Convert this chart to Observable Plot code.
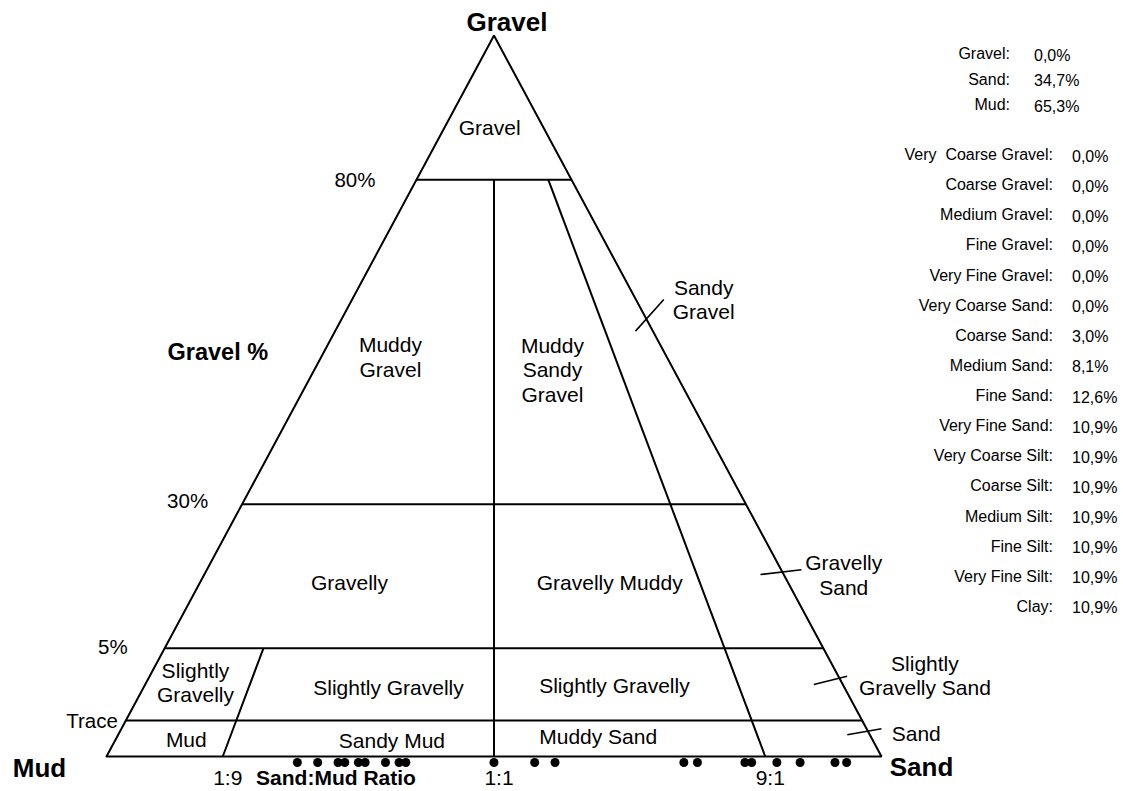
<!DOCTYPE html>
<html>
<head>
<meta charset="utf-8">
<script src="https://cdn.jsdelivr.net/npm/d3@7"></script>
<script src="https://cdn.jsdelivr.net/npm/@observablehq/plot@0.6"></script>
<style>
  html, body { margin: 0; padding: 0; background: #fff; }
  body { font-family: "Liberation Sans", Arial, Helvetica, sans-serif; }
  #wrap { position: relative; width: 1123px; height: 791px; overflow: hidden; }
  #list { position: absolute; left: 0; top: 0; width: 1123px; height: 791px; pointer-events: none; font-size: 16px; color: #000; }
  .lab, .val { position: absolute; white-space: pre; line-height: 16px; }
  .lab { text-align: right; }
</style>
</head>
<body>
<div id="wrap"><div id="list"></div></div>
<script>
// ---------------- data ----------------
// gravel % class boundaries (Trace, 5%, 30%, 80%)
const gravelBoundaries = [0.05, 5, 30, 80];
const gravelBoundaryLabels = ["Trace", "5%", "30%", "80%"];
// sand:mud ratio boundaries, as sand fraction of sand+mud
const ratioValues = [0.1, 0.5, 0.9];
const ratioLabels = ["1:9", "1:1", "9:1"];
// samples (0% gravel) – sand fraction of sand+mud
const sampleSand = [0.21, 0.24, 0.27, 0.28, 0.30, 0.31, 0.34, 0.36, 0.37,
                    0.50, 0.56, 0.59, 0.78, 0.80, 0.87, 0.88, 0.91, 0.93, 0.96, 0.97];
// summary
const summaryNames = ["Gravel:", "Sand:", "Mud:"];
const summaryValues = [0.0, 34.7, 65.3];
const fractionNames = ["Very  Coarse Gravel:", "Coarse Gravel:", "Medium Gravel:", "Fine Gravel:",
  "Very Fine Gravel:", "Very Coarse Sand:", "Coarse Sand:", "Medium Sand:", "Fine Sand:",
  "Very Fine Sand:", "Very Coarse Silt:", "Coarse Silt:", "Medium Silt:", "Fine Silt:",
  "Very Fine Silt:", "Clay:"];
const fractionValues = [0.0, 0.0, 0.0, 0.0, 0.0, 0.0, 3.0, 8.1, 12.6, 10.9, 10.9, 10.9, 10.9, 10.9, 10.9, 10.9];
// class names
const classNames = ["Gravel", "Muddy\nGravel", "Muddy\nSandy\nGravel", "Sandy\nGravel", "Gravelly",
  "Gravelly Muddy", "Gravelly\nSand", "Slightly\nGravelly", "Slightly Gravelly", "Slightly Gravelly",
  "Slightly\nGravelly Sand", "Mud", "Sandy Mud", "Muddy Sand", "Sand"];

// ---------------- layout (anchors in ternary coordinates: gravel %, sand fraction) ----------------
const classAnchors = [
  [87.3, 0.45], [52.75, 0.157], [50.75, 0.686], [61.6, 1.16], [16.47, 0.219],
  [16.47, 0.725], [17.77, 1.069], [2.68, 0.047], [2.31, 0.328], [2.45, 0.697],
  [3.16, 1.0845], [0.0245, 0.062], [0.0222, 0.346], [0.0277, 0.658], [0.0323, 1.042]
];
const leaderAnchors = [
  [[56.66, 0.9635], [61.53, 1.0655]],
  [[17.8, 0.9733], [18.62, 1.0236]],
  [[2.518, 0.9723], [3.09, 1.0085]],
  [[0.0301, 0.98], [0.0385, 1.0133]]
];
const boundaryLabelOffsets = [[-8, 1], [-37, -1], [-34, -3], [-41, 1]];

// ---------------- ternary projection ----------------
// Folk diagram stretches gravel classes and ratio classes
const heightOf = d3.scaleLinear([0, 0.05, 5, 30, 80, 100], [0, 0.05, 0.15, 0.35, 0.8, 1]);
const widthOf = d3.scaleLinear([0, 0.1, 0.5, 0.9, 1], [0, 0.15, 0.5, 0.85, 1]);
const P = (g, s) => { const h = heightOf(g); return {u: (widthOf(s) - 0.5) * (1 - h), h}; };

const outline = [[0, 0], [0, 1], [100, 0.5], [0, 0]].map(([g, s]) => P(g, s));
const boundaries = [
  ...gravelBoundaries.map(g => ({a: P(g, 0), b: P(g, 1)})),
  {a: P(5, ratioValues[0]), b: P(0, ratioValues[0])},
  {a: P(80, ratioValues[1]), b: P(0, ratioValues[1])},
  {a: P(80, ratioValues[2]), b: P(0, ratioValues[2])}
];
const leaders = leaderAnchors.map(([a, b]) => ({a: P(...a), b: P(...b)}));
const classData = classNames.map((t, i) => ({t, ...P(...classAnchors[i])}));
const samples = sampleSand.map(s => P(0, s));
const ratioData = ratioValues.map((s, i) => ({t: ratioLabels[i], ...P(0, s)}));

const link = (data, opts) => Plot.link(data, {x1: d => d.a.u, y1: d => d.a.h, x2: d => d.b.u, y2: d => d.b.h, stroke: "black", ...opts});
const FONT = "Liberation Sans, Arial, Helvetica, sans-serif";

const marks = [
  link(boundaries, {strokeWidth: 2}),
  link(leaders, {strokeWidth: 1.6}),
  Plot.line(outline, {x: "u", y: "h", stroke: "black", strokeWidth: 2, strokeLinejoin: "miter"}),
  Plot.text(classData, {x: "u", y: "h", text: "t", fontSize: 21, lineHeight: 1.17, fill: "black"}),
  Plot.dot(samples, {x: "u", y: "h", r: 4.5, fill: "black", stroke: "none", dy: 6}),
  Plot.text(ratioData, {x: "u", y: "h", text: "t", fontSize: 21, dy: 22, dx: 5, fill: "black"}),
  Plot.text([{t: "Sand:Mud Ratio", ...P(0, 0.267)}], {x: "u", y: "h", text: "t", fontSize: 21, fontWeight: "bold", dy: 22}),
  Plot.text([{t: "Gravel", ...P(100, 0.5)}], {x: "u", y: "h", text: "t", fontSize: 26, fontWeight: "bold", dx: 13, dy: -13}),
  Plot.text([{t: "Mud", ...P(0, 0)}], {x: "u", y: "h", text: "t", fontSize: 26, fontWeight: "bold", dx: -67, dy: 12}),
  Plot.text([{t: "Sand", ...P(0, 1)}], {x: "u", y: "h", text: "t", fontSize: 26, fontWeight: "bold", dx: 40, dy: 11}),
  Plot.text([{t: "Gravel %", ...P(53.42, 0)}], {x: "u", y: "h", text: "t", fontSize: 23.5, fontWeight: "bold", dx: -106})
];
gravelBoundaries.forEach((g, i) => {
  const [dx, dy] = boundaryLabelOffsets[i];
  marks.push(Plot.text([{t: gravelBoundaryLabels[i], ...P(g, 0)}],
    {x: "u", y: "h", text: "t", fontSize: 20.5, textAnchor: "end", dx, dy}));
});

const chart = Plot.plot({
  width: 1123,
  height: 791,
  x: {domain: [-0.5, 0.5], range: [106, 881], axis: null},
  y: {domain: [0, 1], range: [756, 35], axis: null},
  style: {background: "#fff", fontFamily: FONT, color: "black", overflow: "visible"},
  marks
});
const wrap = document.getElementById("wrap");
wrap.insertBefore(chart, wrap.firstChild);

// ---------------- summary list ----------------
const fmt = v => v.toFixed(1).replace(".", ",") + "%";
const list = document.getElementById("list");
function addRow(name, value, cy, labelRight, valueLeft) {
  const l = document.createElement("div");
  l.className = "lab";
  l.textContent = name;
  l.style.right = (1123 - labelRight) + "px";
  l.style.top = (cy - 8) + "px";
  const v = document.createElement("div");
  v.className = "val";
  v.textContent = fmt(value);
  v.style.left = valueLeft + "px";
  v.style.top = (cy - 8 + 1.5) + "px";
  list.appendChild(l);
  list.appendChild(v);
}
summaryNames.forEach((n, i) => addRow(n, summaryValues[i], 54 + i * 25.5, 1010, 1034));
fractionNames.forEach((n, i) => addRow(n, fractionValues[i], 155 + i * 30.13, 1053, 1072));
</script>
</body>
</html>
